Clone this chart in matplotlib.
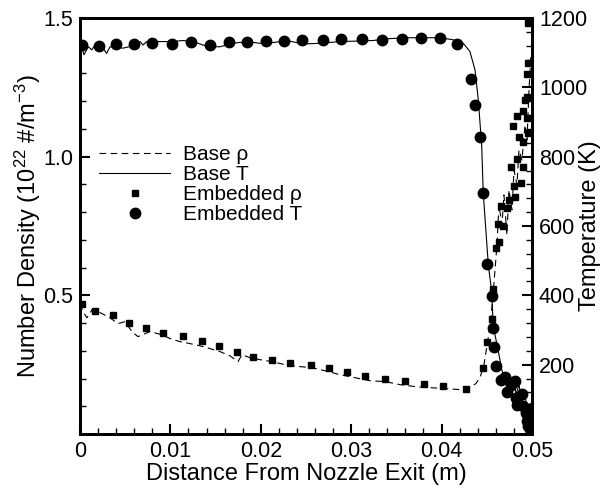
import numpy as np
import matplotlib
matplotlib.use("Agg")
import matplotlib.pyplot as plt
from matplotlib.ticker import MultipleLocator, FixedLocator
from matplotlib.lines import Line2D

plt.rcParams['font.family'] = ['Liberation Sans', 'DejaVu Sans']
plt.rcParams['mathtext.fontset'] = 'custom'
plt.rcParams['mathtext.rm'] = 'Liberation Sans'
plt.rcParams['mathtext.default'] = 'regular'

# Base (continuum) solution: number density (1e22 /m^3)
base_rho_x = [0.0, 0.00033, 0.00077, 0.00133, 0.00221, 0.00332, 0.0042, 0.00498, 0.00575,
              0.00642, 0.00774, 0.00907, 0.00996, 0.01106, 0.01217, 0.01327, 0.01438,
              0.01549, 0.01659, 0.01748, 0.01792, 0.01881, 0.01991, 0.02124, 0.02268,
              0.02434, 0.02566, 0.0271, 0.02876, 0.03042, 0.03208, 0.03374, 0.0354,
              0.03706, 0.03872, 0.04038, 0.04204, 0.04314, 0.0438, 0.04425, 0.04469,
              0.04513, 0.04546, 0.04569, 0.04591, 0.04613, 0.04635, 0.04668, 0.0469,
              0.04723, 0.04745, 0.04779, 0.04801, 0.04834, 0.04856, 0.04889, 0.04923,
              0.04945, 0.04967, 0.04989]
base_rho = [0.470, 0.441, 0.419, 0.448, 0.438, 0.419, 0.398, 0.405, 0.369, 0.351, 0.369,
            0.358, 0.344, 0.333, 0.326, 0.318, 0.308, 0.297, 0.282, 0.261, 0.286, 0.275,
            0.268, 0.261, 0.250, 0.243, 0.239, 0.228, 0.214, 0.203, 0.192, 0.189, 0.178,
            0.171, 0.167, 0.164, 0.160, 0.167, 0.182, 0.203, 0.250, 0.340, 0.419, 0.502,
            0.592, 0.682, 0.826, 0.754, 0.862, 0.718, 0.880, 0.808, 0.952, 0.898, 1.024,
            0.988, 1.114, 1.060, 1.240, 1.366]

# Base solution: temperature (K)
base_T_x = [0.0002, 0.00044, 0.00092, 0.0013, 0.00166, 0.00254, 0.00295, 0.00332, 0.00476,
            0.00627, 0.00664, 0.00697, 0.00738, 0.00885, 0.01029, 0.01139, 0.0125, 0.01361,
            0.01438, 0.01549, 0.01692, 0.01844, 0.01991, 0.02135, 0.02287, 0.02467,
            0.02655, 0.02876, 0.0302, 0.03241, 0.03393, 0.03614, 0.03761, 0.03982, 0.0413,
            0.0424, 0.04314, 0.0437, 0.04406, 0.04444, 0.04461, 0.04517, 0.04554, 0.04572,
            0.04609, 0.04646, 0.04665, 0.04701, 0.04735, 0.04757, 0.0479, 0.04823, 0.04856,
            0.0489, 0.04923, 0.04956, 0.04989, 0.05]
base_T = [1117, 1094, 1117, 1108, 1122, 1113, 1098, 1117, 1113, 1122, 1132, 1122, 1132, 1132,
          1132, 1135, 1132, 1122, 1117, 1117, 1127, 1132, 1127, 1129, 1135, 1125, 1127, 1132,
          1133, 1135, 1140, 1143, 1143, 1143, 1137, 1127, 1103, 1050, 964, 831, 695, 488,
          411, 310, 263, 214, 186, 157, 174, 134, 163, 114, 142, 93, 114, 47, 27, 13]

# Embedded (DSMC) solution: number density
emb_rho_x = [0.00019, 0.00166, 0.00362, 0.00545, 0.0073, 0.00921, 0.01136, 0.01346, 0.01538,
             0.01733, 0.01917, 0.02124, 0.02323, 0.02552, 0.02751, 0.0295, 0.03149, 0.03374,
             0.03595, 0.03805, 0.04019, 0.0427, 0.04461, 0.04499, 0.04561, 0.04572, 0.04602,
             0.04638, 0.04627, 0.04676, 0.04654, 0.0472, 0.04749, 0.04812, 0.04801, 0.04875,
             0.04764, 0.04831, 0.04904, 0.04787, 0.04838, 0.04897, 0.04941, 0.04923, 0.04941,
             0.0486, 0.04897, 0.04952, 0.04941, 0.04959, 0.04959]
emb_rho = [0.470, 0.444, 0.428, 0.400, 0.381, 0.364, 0.354, 0.336, 0.317, 0.294, 0.279, 0.267,
           0.257, 0.249, 0.237, 0.222, 0.209, 0.200, 0.190, 0.182, 0.172, 0.164, 0.238, 0.330,
           0.415, 0.524, 0.672, 0.692, 0.758, 0.751, 0.823, 0.814, 0.844, 0.853, 0.895, 0.904,
           0.962, 0.991, 0.962, 1.111, 1.147, 1.165, 1.139, 1.205, 1.214, 1.070, 1.054, 1.085,
           1.298, 1.337, 1.481]

# Embedded solution: temperature
emb_T_x = [0.00019, 0.0021, 0.00398, 0.00597, 0.0080, 0.01014, 0.01225, 0.01438, 0.01648,
           0.01847, 0.02058, 0.0226, 0.02461, 0.02685, 0.02887, 0.0312, 0.03337, 0.03565,
           0.03769, 0.03982, 0.04174, 0.04322, 0.0437, 0.04425, 0.04461, 0.04506, 0.04554,
           0.04572, 0.04583, 0.04602, 0.04654, 0.04701, 0.04727, 0.04764, 0.04812, 0.04823,
           0.04831, 0.04886, 0.04904, 0.04934, 0.04941, 0.04959, 0.04978, 0.04997]
emb_T = [1122, 1119, 1124, 1126, 1129, 1126, 1130, 1122, 1130, 1132, 1133, 1135, 1137, 1137,
         1139, 1139, 1137, 1139, 1141, 1141, 1124, 1024, 950, 856, 695, 491, 397, 306, 251,
         197, 157, 165, 120, 140, 152, 105, 85, 114, 80, 61, 37, 22, 13, 75]

fig = plt.figure(figsize=(6.05, 4.9), dpi=100)
ax = fig.add_axes([0.1322, 0.1143, 0.7471, 0.8490])
ax2 = ax.twinx()

ax.plot(base_rho_x, base_rho, color='black', lw=0.8, ls=(0, (6, 4)))
ax.plot(emb_rho_x, emb_rho, ls='none', marker='s', ms=5, color='black')
ax2.plot(base_T_x, base_T, color='black', lw=0.8)
ax2.plot(emb_T_x, emb_T, ls='none', marker='o', ms=7.5, color='black')

ax.set_xlim(0, 0.05)
ax.set_ylim(0, 1.5)
ax2.set_ylim(0, 1200)

ax.xaxis.set_major_locator(FixedLocator([0, 0.01, 0.02, 0.03, 0.04, 0.05]))
ax.set_xticklabels(['0', '0.01', '0.02', '0.03', '0.04', '0.05'])
ax.xaxis.set_minor_locator(MultipleLocator(0.002))
ax.set_yticks([0.5, 1.0, 1.5])
ax.set_yticklabels(['0.5', '1.0', '1.5'])
ax.yaxis.set_minor_locator(MultipleLocator(0.1))
ax2.set_yticks([200, 400, 600, 800, 1000, 1200])
ax2.yaxis.set_minor_locator(MultipleLocator(40))

for a in (ax, ax2):
    a.tick_params(which='major', direction='in', length=7, width=1.5, labelsize=15.5, pad=5)
    a.tick_params(which='minor', direction='in', length=4, width=1.0)
    for s in a.spines.values():
        s.set_linewidth(2)
ax.tick_params(axis='y', which='both', right=False)
ax.tick_params(axis='x', which='both', top=False)

ax.set_xlabel('Distance From Nozzle Exit (m)', fontsize=17, labelpad=1)
ax.set_ylabel('Number Density (10$^{22}$ #/m$^{-3}$)', fontsize=17)
ax.yaxis.set_label_coords(-0.082, 0.5)
ax2.set_ylabel('Temperature (K)', fontsize=17)
ax2.yaxis.set_label_coords(1.103, 0.5)

handles = [
    Line2D([], [], color='black', lw=0.8, ls=(0, (6, 4))),
    Line2D([], [], color='black', lw=0.8),
    Line2D([], [], ls='none', marker='s', ms=5, color='black'),
    Line2D([], [], ls='none', marker='o', ms=7.5, color='black'),
]
labels = ['Base \u03c1', 'Base T', 'Embedded \u03c1', 'Embedded T']
ax.legend(handles, labels, loc='upper left', bbox_to_anchor=(0.02, 0.72), frameon=False,
          fontsize=15, handlelength=3.4, handletextpad=0.6, labelspacing=0.05, borderpad=0)

fig.savefig('out.png', dpi=100)
